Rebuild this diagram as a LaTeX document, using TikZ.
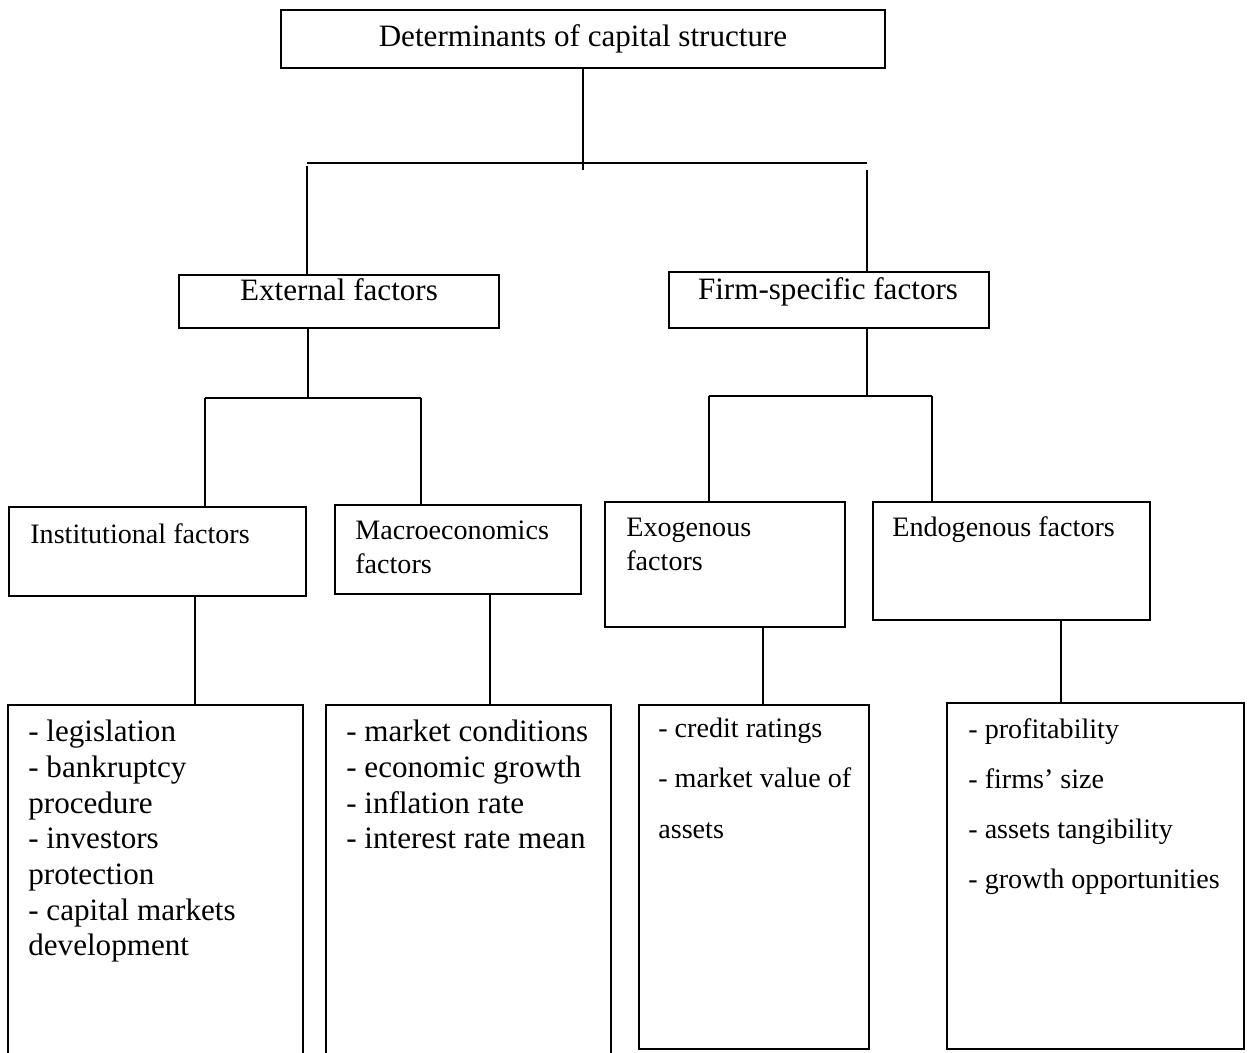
\documentclass[tikz,border=0pt]{standalone}
\usepackage{fontspec}
\setmainfont{Liberation Serif}
\usetikzlibrary{fit}

\begin{document}
\begin{tikzpicture}[x=0.02cm,y=-0.02cm]

    \tikzset{
      box/.style={
        draw,
        line width=1.1pt,
        inner sep=0pt,
      },
      link/.style={line width=1.1pt},
      bigtext/.style={font=\fontsize{17.7}{20.3}\selectfont, inner sep=0pt, align=left},
      smalltext/.style={font=\fontsize{16}{19}\selectfont, inner sep=0pt, align=left},
      listtext/.style={font=\fontsize{16}{28.5}\selectfont, inner sep=0pt, align=left},
    }

	\useasboundingbox (0,0) rectangle (1250,1052);
	\clip (0,0) rectangle (1250,1052);

	% boxes
	\node[box, fit={(281,10) (885,68)}] (det) {};
	\node[box, fit={(179,275) (499,328)}] (ext) {};
	\node[box, fit={(669,272) (989,328)}] (firm) {};
	\node[box, fit={(9,507) (306,596)}] (inst) {};
	\node[box, fit={(335,505) (581,594)}] (macro) {};
	\node[box, fit={(605,502) (845,627)}] (exo) {};
	\node[box, fit={(873,502) (1150,620)}] (endo) {};
	\node[box, fit={(8,705) (303,1070)}] (instlist) {};
	\node[box, fit={(326,705) (611,1070)}] (macrolist) {};
	\node[box, fit={(639,705) (869,1049)}] (exolist) {};
	\node[box, fit={(947,703) (1244,1049)}] (endolist) {};

	% texts
	\node[bigtext] (dettext) at (det.center) {Determinants of capital structure};
	\node[bigtext, anchor=base] (exttext) at (339,300) {External factors};
	\node[bigtext, anchor=base] (firmtext) at (828,299) {Firm-specific factors};
	\node[smalltext, anchor=base west] (insttext) at (30,543) {Institutional factors};
	\node[smalltext, anchor=north west] (macrotext) at (355,521) {Macroeconomics\\factors};
	\node[smalltext, anchor=north west] (exotext) at (626,518) {Exogenous\\factors};
	\node[smalltext, anchor=base west] (endotext) at (892,536) {Endogenous factors};
	\node[bigtext, anchor=north west] (institems) at (28,720) {- legislation\\- bankruptcy\\procedure\\- investors\\protection\\- capital markets\\development};
	\node[bigtext, anchor=north west] (macroitems) at (346,720) {- market conditions\\- economic growth\\- inflation rate\\- interest rate mean};
	\node[listtext, anchor=north west] (exoitems) at (658,718) {- credit ratings\\- market value of\\assets};
	\node[listtext, anchor=north west] (endoitems) at (968,718) {- profitability\\- firms’ size\\- assets tangibility\\- growth opportunities};

	% connectors
	\coordinate (barL) at (307,163);
	\coordinate (barR) at (867,163);
	\coordinate (extL) at (205,398);
	\coordinate (extR) at (421,398);
	\coordinate (firmL) at (709,396);
	\coordinate (firmR) at (932,396);

	\draw[link] (det.south) -- ([yshift=-7*0.02cm]det.south |- barL);
	\draw[link] (barL) -- (barR);
	\draw[link] ([yshift=-3*0.02cm]barL) -- (barL |- ext.north);
	\draw[link] ([yshift=-7*0.02cm]barR) -- (barR |- firm.north);

	\draw[link] (ext.south -| 308,0) -- (extL -| 308,0);
	\draw[link] (extL) -- (extR);
	\draw[link] (extL) -- (extL |- inst.north);
	\draw[link] (extR) -- (extR |- macro.north);

	\draw[link] (firm.south -| 867,0) -- (firmL -| 867,0);
	\draw[link] (firmL) -- (firmR);
	\draw[link] (firmL) -- (firmL |- exo.north);
	\draw[link] (firmR) -- (firmR |- endo.north);

	\draw[link] (inst.south -| 195,0) -- (instlist.north -| 195,0);
	\draw[link] (macro.south -| 490,0) -- (macrolist.north -| 490,0);
	\draw[link] (exo.south -| 763,0) -- (exolist.north -| 763,0);
	\draw[link] (endo.south -| 1061,0) -- (endolist.north -| 1061,0);

\end{tikzpicture}
\end{document}
